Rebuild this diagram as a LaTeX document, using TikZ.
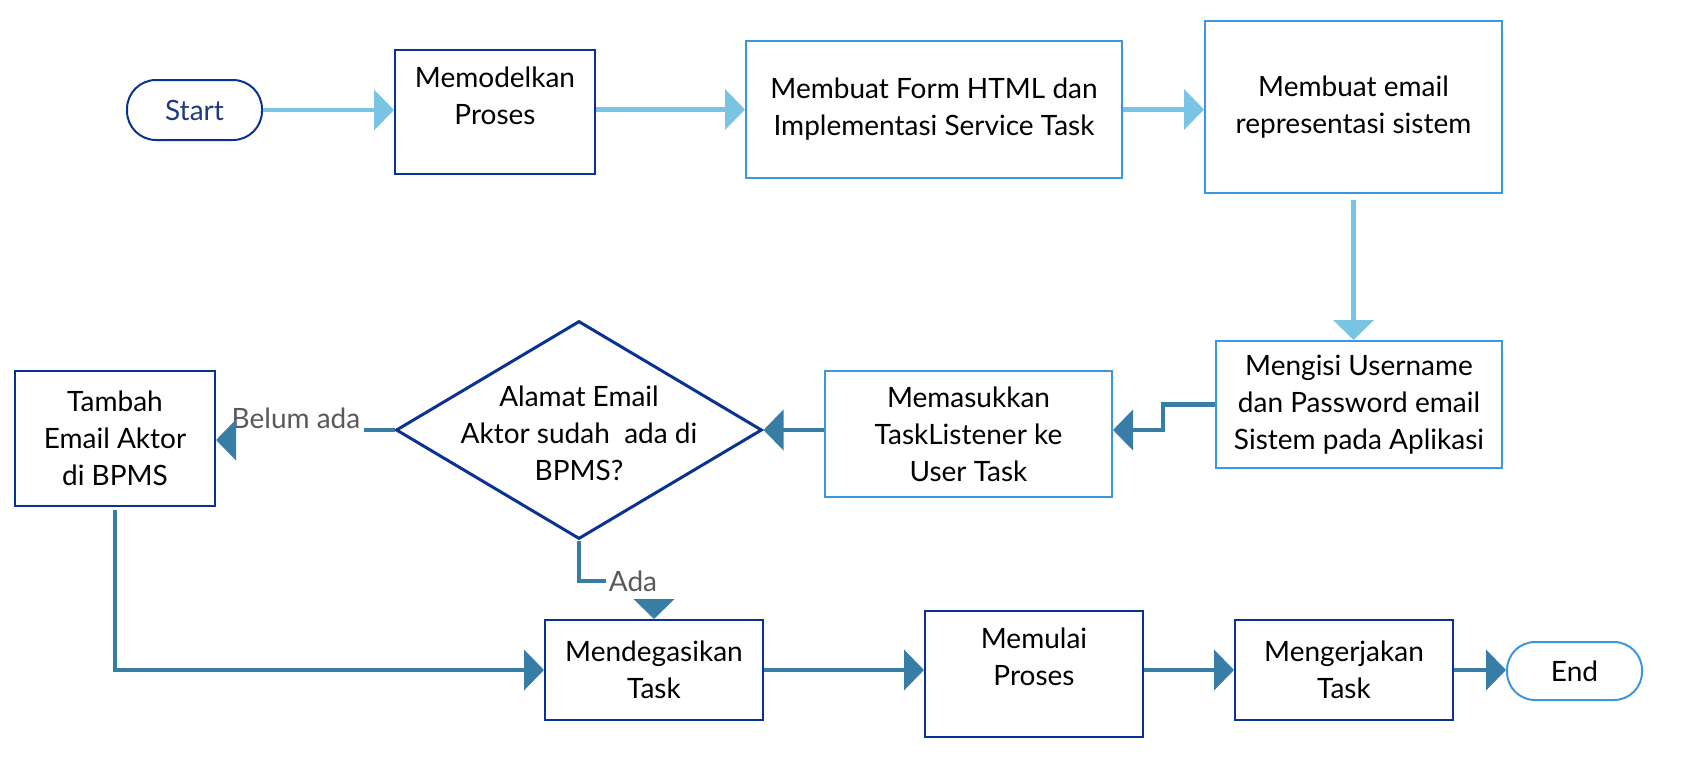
\documentclass[tikz,border=0pt]{standalone}
\usepackage{fontspec}
\setmainfont{Lato}
\usetikzlibrary{arrows.meta,shapes.geometric}
\definecolor{lightarr}{RGB}{120,196,226}
\definecolor{darkarr}{RGB}{55,125,166}
\definecolor{navy}{RGB}{10,50,145}
\definecolor{skyb}{RGB}{60,150,225}
\definecolor{starttxt}{RGB}{30,60,125}
\definecolor{lblgray}{RGB}{89,89,89}
\begin{document}
\begin{tikzpicture}[x=1pt,y=-1pt,
  every node/.style={font=\fontsize{28}{37}\selectfont},
  navybox/.style={draw=navy,line width=2pt,rectangle,inner sep=0pt,align=center,text=black},
  skybox/.style={draw=skyb,line width=2pt,rectangle,inner sep=0pt,align=center,text=black},
  txt/.style={align=center,inner sep=0pt,text=black},
  lblnode/.style={text=lblgray,inner sep=3pt},
  lightarrow/.style={draw=lightarr,line width=4.5pt,-{Triangle[length=20pt,width=40pt]}},
  darkarrow/.style={draw=darkarr,line width=4.5pt,-{Triangle[length=20pt,width=40pt]}},
  darkline/.style={draw=darkarr,line width=4.5pt},
]
\useasboundingbox (0,0) rectangle (1683,763);

% top row
\node[navybox,rounded corners=29pt,minimum width=135pt,minimum height=60pt,text=starttxt] (start) at (194.5,110) {Start};
\node[navybox,minimum width=200pt,minimum height=124pt] (mem) at (495,112) {};
\node[txt] (memt) at (495,96) {Memodelkan\\Proses};
\node[skybox,minimum width=376pt,minimum height=137pt] (form) at (934,109.5) {Membuat Form HTML dan\\Implementasi Service Task};
\node[skybox,minimum width=297pt,minimum height=172pt] (email) at (1353.5,107) {Membuat email\\representasi sistem};

% middle row
\node[skybox,minimum width=286pt,minimum height=127pt] (mengisi) at (1359,404.5) {Mengisi Username\\dan Password email\\Sistem pada Aplikasi};
\node[skybox,minimum width=287pt,minimum height=126pt] (memas) at (968.5,434) {Memasukkan\\TaskListener ke\\User Task};
\node[diamond,draw=navy,line width=3pt,inner sep=0pt,minimum width=366pt,minimum height=218pt] (dia) at (579,430) {};
\node[txt] (diat) at (579,433) {Alamat Email\\Aktor sudah\ \ ada di\\BPMS?};
\node[navybox,minimum width=200pt,minimum height=135pt] (tambah) at (115,438.5) {Tambah\\Email Aktor\\di BPMS};

% bottom row
\node[navybox,minimum width=218pt,minimum height=100pt] (mendeg) at (654,670) {Mendegasikan\\Task};
\node[navybox,minimum width=218pt,minimum height=126pt] (memulai) at (1034,674) {};
\node[txt] (memulait) at (1034,657) {Memulai\\Proses};
\node[navybox,minimum width=218pt,minimum height=100pt] (menger) at (1344,670) {Mengerjakan\\Task};
\node[skybox,rounded corners=28pt,minimum width=135pt,minimum height=58pt] (end) at (1574.5,671) {End};

% labels
\node[lblnode] (bl) at (296,418) {Belum ada};
\node[lblnode] (ada) at (633,581) {Ada};
\coordinate (blend) at (236,440);
\coordinate (adaend) at (654,600);

% light arrows
\draw[lightarrow] (start.east) -- (start.east -| mem.west);
\draw[lightarrow] (form.west -| mem.east) -- (form.west);
\draw[lightarrow] (form.east) -- (form.east -| email.west);
\draw[lightarrow] ([yshift=-6pt]email.south) -- (email.south |- mengisi.north);

% dark arrows
\draw[darkarrow] (mengisi.west) -- ++(-52,0) |- (dia.east -| memas.east);
\draw[darkarrow] (dia.east -| memas.west) -- (dia.east);
\draw[darkline] (dia.west) -- (dia.west -| bl.east);
\draw[darkarrow] (blend) -- (blend -| tambah.east);
\draw[darkline] (dia.south) |- (ada.west);
\draw[darkarrow] (adaend) -- (adaend |- mendeg.north);
\draw[darkarrow] ([yshift=-3pt]tambah.south) |- (mendeg.west);
\draw[darkarrow] (mendeg.east) -- (mendeg.east -| memulai.west);
\draw[darkarrow] (menger.west -| memulai.east) -- (menger.west);
\draw[darkarrow] (menger.east) -- (menger.east -| end.west);
\end{tikzpicture}
\end{document}
